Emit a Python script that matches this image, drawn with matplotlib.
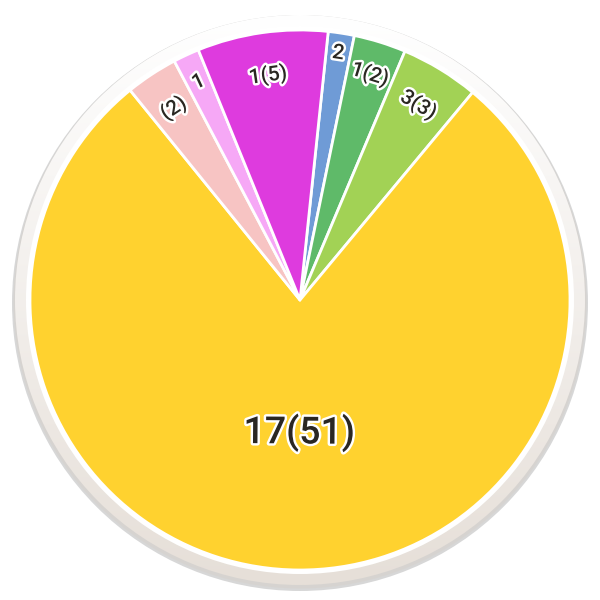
import numpy as np
import matplotlib
matplotlib.use("Agg")
import matplotlib.pyplot as plt
import matplotlib.patheffects as pe
from matplotlib.patches import Circle

labels = ["2", "1(2)", "3(3)", "17(51)", "(2)", "1", "1(5)"]
values = [1, 2, 3, 50, 2, 1, 5]
colors = ["#6f9bd6", "#5fba69", "#a2d255", "#ffd22f", "#f7c4c3", "#f6a8f6", "#de3bde"]
label_frac = [0.925, 0.875, 0.845, 0.49, 0.85, 0.89, 0.84]
label_size = [15, 15, 15, 27, 15, 15, 15]

plt.rcParams['font.family'] = ['Roboto', 'DejaVu Sans']

fig = plt.figure(figsize=(6, 6), dpi=100)
ax = fig.add_axes([0, 0, 1, 1])

cx, cy, R = 300, 300, 270

# shadow
ax.add_patch(Circle((cx, cy - 3), 288, facecolor="#bdbdbd", edgecolor='none', alpha=0.6, zorder=0))
ax.add_patch(Circle((cx, cy - 2), 286.5, facecolor="#d6d3cf", edgecolor='none', alpha=0.8, zorder=0.5))
# gradient outer disc
disc = Circle((cx, cy), 285, facecolor='none', edgecolor='none')
ax.add_patch(disc)
grad = np.linspace(0, 1, 256).reshape(-1, 1)
top = np.array([1.0, 1.0, 1.0])
bot = np.array([0xe6, 0xdf, 0xd8]) / 255
img = top[None, None, :] * (1 - grad[..., None]) + bot[None, None, :] * grad[..., None]
im = ax.imshow(img, extent=(cx - 285, cx + 285, cy - 285, cy + 285), origin='upper',
               aspect='auto', zorder=1, interpolation='bilinear')
im.set_clip_path(disc)
ax.add_patch(Circle((cx, cy), 274, facecolor='white', edgecolor='none', zorder=1.5))

wedges, _ = ax.pie(values, colors=colors, startangle=84, counterclock=False,
                   radius=R, center=(cx, cy),
                   wedgeprops=dict(edgecolor='white', linewidth=2, zorder=2))
ax.set_xlim(0, 600)
ax.set_ylim(0, 600)
ax.set_aspect('equal')
ax.axis('off')

for w, lab, f, fs in zip(wedges, labels, label_frac, label_size):
    mid = (w.theta1 + w.theta2) / 2.0
    a = np.deg2rad(mid)
    x = cx + R * f * np.cos(a)
    y = cy + R * f * np.sin(a)
    rot = mid - 90
    while rot > 90:
        rot -= 180
    while rot < -90:
        rot += 180
    ax.text(x, y, lab, ha='center', va='center', rotation=rot, fontsize=fs,
            fontweight='medium', color='#2a2722', zorder=5, rotation_mode='anchor',
            path_effects=[pe.withStroke(linewidth=3.5, foreground='white')])

fig.savefig("out.png", dpi=100)
